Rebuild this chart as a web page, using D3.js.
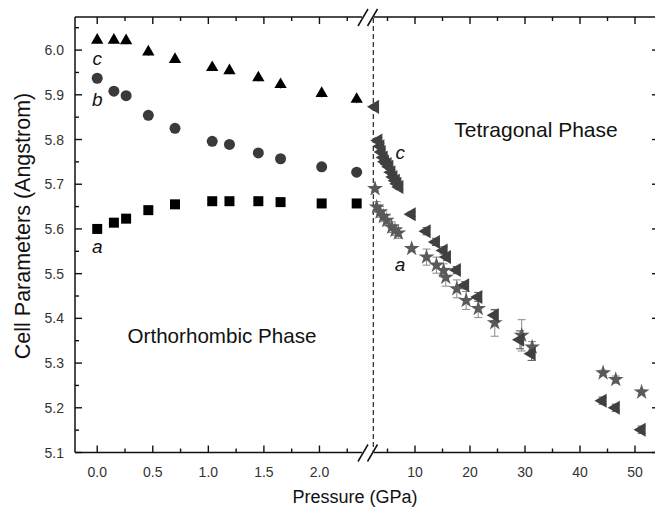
<!DOCTYPE html>
<html><head><meta charset="utf-8">
<script src="https://cdn.jsdelivr.net/npm/d3@7"></script>
<style>body{margin:0;background:#fff}svg{display:block}</style>
</head><body><svg id="c" width="655" height="513"></svg>
<script>
// ---------- data ----------
const orthoP = [0, 0.15, 0.26, 0.46, 0.70, 1.035, 1.19, 1.45, 1.65, 2.02, 2.335];
const orthoA = [5.600, 5.614, 5.623, 5.642, 5.655, 5.662, 5.662, 5.662, 5.660, 5.657, 5.657];
const orthoB = [5.937, 5.908, 5.898, 5.854, 5.825, 5.796, 5.789, 5.770, 5.757, 5.739, 5.727];
const orthoC = [6.022, 6.022, 6.021, 5.996, 5.979, 5.961, 5.954, 5.938, 5.923, 5.903, 5.890];
const orthoErrA = [0.003, 0.003, 0.003, 0.003, 0.003, 0.003, 0.003, 0.003, 0.003, 0.003, 0.003];
const orthoErrB = [0.004, 0.004, 0.004, 0.004, 0.004, 0.005, 0.005, 0.006, 0.008, 0.007, 0.006];
const orthoErrC = [0.008, 0.008, 0.008, 0.009, 0.008, 0.008, 0.008, 0.008, 0.009, 0.009, 0.009];

const tetraCP = [2.73, 3.33, 3.7, 3.94, 4.3, 4.55, 5.0, 5.32, 5.7, 6.06, 6.5, 6.79, 7.15, 9.39, 12.1, 13.8, 15.2, 15.8, 17.6, 19.1, 21.5, 24.5, 29.1, 31.2, 44.1, 46.5, 51.2];
const tetraC  = [5.873, 5.798, 5.785, 5.772, 5.760, 5.750, 5.745, 5.739, 5.727, 5.716, 5.708, 5.701, 5.694, 5.633, 5.595, 5.571, 5.552, 5.537, 5.508, 5.474, 5.448, 5.407, 5.352, 5.321, 5.216, 5.200, 5.151];
const tetraCErr = [0.005, 0.006, 0.006, 0.006, 0.006, 0.006, 0.006, 0.006, 0.006, 0.006, 0.006, 0.006, 0.006, 0.005, 0.008, 0.008, 0.008, 0.008, 0.008, 0.008, 0.01, 0.012, 0.02, 0.015, 0.008, 0.008, 0.008];

const tetraAP = [2.73, 3.03, 3.64, 4.24, 4.85, 5.76, 6.36, 6.97, 9.39, 12.1, 13.9, 15.2, 15.6, 17.6, 19.3, 21.5, 24.5, 29.4, 31.3, 44.2, 46.5, 51.2];
const tetraA  = [5.690, 5.649, 5.638, 5.628, 5.619, 5.604, 5.597, 5.591, 5.556, 5.537, 5.519, 5.507, 5.492, 5.466, 5.440, 5.422, 5.390, 5.362, 5.336, 5.278, 5.263, 5.235];
const tetraAErr = [0.005, 0.012, 0.012, 0.012, 0.012, 0.012, 0.012, 0.012, 0.005, 0.018, 0.018, 0.015, 0.02, 0.02, 0.02, 0.02, 0.03, 0.035, 0.012, 0.006, 0.008, 0.005];

const transitionP = 2.42;
const leftMajor = [0, 0.5, 1.0, 1.5, 2.0];
const leftMinor = [0.25, 0.75, 1.25, 1.75, 2.25];
const rightMajor = [10, 20, 30, 40, 50];
const rightMinor = [5, 15, 25, 35, 45];
const yMajor = [5.1, 5.2, 5.3, 5.4, 5.5, 5.6, 5.7, 5.8, 5.9, 6.0];
const yMinor = [5.15, 5.25, 5.35, 5.45, 5.55, 5.65, 5.75, 5.85, 5.95, 6.05];

// ---------- layout ----------
const svg = d3.select("#c");
const FONT = "'Liberation Sans', Arial, sans-serif";
const plotL = 75, plotT = 17, plotB = 452.5, rightSpine = 659;
const xL = d3.scaleLinear().domain([-0.2, 2.4]).range([plotL, 363.9]);
const xR = d3.scaleLinear().domain([1.5, 54]).range([368.25, 657]);
const y = d3.scaleLinear().domain([5.1, 6.074]).range([plotB, plotT]);

const g = svg.append("g");
const axCol = "#111";
// spines
g.append("line").attr("x1", plotL).attr("x2", plotL).attr("y1", plotT).attr("y2", plotB).attr("stroke", axCol).attr("stroke-width", 1.5);
g.append("line").attr("x1", rightSpine).attr("x2", rightSpine).attr("y1", plotT).attr("y2", plotB).attr("stroke", axCol).attr("stroke-width", 1.5);
[plotT, plotB].forEach(yy => {
  g.append("line").attr("x1", plotL).attr("x2", 362).attr("y1", yy).attr("y2", yy).attr("stroke", axCol).attr("stroke-width", 1.5);
  g.append("line").attr("x1", 374).attr("x2", 655).attr("y1", yy).attr("y2", yy).attr("stroke", axCol).attr("stroke-width", 1.5);
  // break slashes
  [363, 372.5].forEach(cx => {
    g.append("line").attr("x1", cx - 5).attr("y1", yy + 9).attr("x2", cx + 5).attr("y2", yy - 8)
      .attr("stroke", axCol).attr("stroke-width", 1.5);
  });
});

// ticks
function xTicks(scale, vals, len) {
  vals.forEach(v => {
    const x = scale(v);
    if (x > 655) return;
    g.append("line").attr("x1", x).attr("x2", x).attr("y1", plotB).attr("y2", plotB - len).attr("stroke", axCol).attr("stroke-width", 1.4);
    g.append("line").attr("x1", x).attr("x2", x).attr("y1", plotT).attr("y2", plotT + len).attr("stroke", axCol).attr("stroke-width", 1.4);
  });
}
xTicks(xL, leftMajor, 7); xTicks(xL, leftMinor, 4);
xTicks(xR, rightMajor, 7); xTicks(xR, rightMinor, 4);
function yTicks(vals, len) {
  vals.forEach(v => {
    const yy = y(v);
    g.append("line").attr("x1", plotL).attr("x2", plotL + len).attr("y1", yy).attr("y2", yy).attr("stroke", axCol).attr("stroke-width", 1.4);
    g.append("line").attr("x1", rightSpine).attr("x2", rightSpine - len).attr("y1", yy).attr("y2", yy).attr("stroke", axCol).attr("stroke-width", 1.4);
  });
}
yTicks(yMajor, 7); yTicks(yMinor, 4);

// tick labels
const labCol = "#333";
leftMajor.forEach(v => g.append("text").attr("x", xL(v)).attr("y", plotB + 24).attr("text-anchor", "middle")
  .attr("font-family", FONT).attr("font-size", 14).attr("fill", labCol).text(d3.format(".1f")(v)));
rightMajor.forEach(v => g.append("text").attr("x", xR(v)).attr("y", plotB + 24).attr("text-anchor", "middle")
  .attr("font-family", FONT).attr("font-size", 14).attr("fill", labCol).text(v));
yMajor.forEach(v => g.append("text").attr("x", plotL - 11).attr("y", y(v) + 5).attr("text-anchor", "end")
  .attr("font-family", FONT).attr("font-size", 14).attr("fill", labCol).text(d3.format(".1f")(v)));

// axis titles
g.append("text").attr("x", 355).attr("y", 503).attr("text-anchor", "middle").attr("font-family", FONT)
  .attr("font-size", 18).attr("fill", "#111").text("Pressure (GPa)");
g.append("text").attr("transform", "translate(30,226) rotate(-90)").attr("text-anchor", "middle").attr("font-family", FONT)
  .attr("font-size", 21.5).attr("fill", "#111").text("Cell Parameters (Angstrom)");

// dashed transition line
g.append("line").attr("x1", xR(transitionP)).attr("x2", xR(transitionP)).attr("y1", plotT + 1).attr("y2", plotB)
  .attr("stroke", "#222").attr("stroke-width", 1.2).attr("stroke-dasharray", "5,3");

// phase labels
g.append("text").attr("x", 222).attr("y", 343).attr("text-anchor", "middle").attr("font-family", FONT)
  .attr("font-size", 20.6).attr("fill", "#111").text("Orthorhombic Phase");
g.append("text").attr("x", 536).attr("y", 137).attr("text-anchor", "middle").attr("font-family", FONT)
  .attr("font-size", 21).attr("fill", "#111").text("Tetragonal Phase");

// error bars
function errBars(xs, ps, vs, es, col, cap) {
  ps.forEach((p, i) => {
    const x = xs(p), y1 = y(vs[i] - es[i]), y2 = y(vs[i] + es[i]);
    g.append("line").attr("x1", x).attr("x2", x).attr("y1", y1).attr("y2", y2).attr("stroke", col).attr("stroke-width", 1);
    [y1, y2].forEach(yy => g.append("line").attr("x1", x - cap).attr("x2", x + cap).attr("y1", yy).attr("y2", yy).attr("stroke", col).attr("stroke-width", 1));
  });
}
errBars(xL, orthoP, orthoC, orthoErrC, "#444", 0);
errBars(xL, orthoP, orthoB, orthoErrB, "#555", 3);
errBars(xL, orthoP, orthoA, orthoErrA, "#444", 0);
errBars(xR, tetraAP, tetraA, tetraAErr, "#8a8a8a", 4);
errBars(xR, tetraCP, tetraC, tetraCErr, "#555", 4);

// markers
function markers(xs, ps, vs, type, size, col, rot) {
  const sym = d3.symbol().type(type).size(size);
  ps.forEach((p, i) => {
    g.append("path").attr("d", sym()).attr("fill", col)
      .attr("transform", `translate(${xs(p)},${y(vs[i])}) rotate(${rot || 0})`);
  });
}
markers(xL, orthoP, orthoA, d3.symbolSquare, 100, "#000");
markers(xL, orthoP, orthoB, d3.symbolCircle, 95, "#3a3a3a");
markers(xL, orthoP, orthoC, d3.symbolTriangle, 66, "#000");
markers(xR, tetraAP, tetraA, d3.symbolStar, 78, "#5a5a5a");
markers(xR, tetraCP, tetraC, d3.symbolTriangle, 85, "#404040", -90);

// series labels
const italic = (x, yy, t) => g.append("text").attr("x", x).attr("y", yy).attr("text-anchor", "middle").attr("font-family", FONT)
  .attr("font-size", 19).attr("font-style", "italic").attr("fill", "#111").text(t);
italic(xL(orthoP[0]), y(orthoC[0]) + 25, "c");
italic(xL(orthoP[0]), y(orthoB[0]) + 28, "b");
italic(xL(orthoP[0]), y(orthoA[0]) + 24, "a");
italic(xR(7.3), y(5.76) + 2, "c");
italic(xR(7.3), y(5.51) + 2, "a");
</script></body></html>
